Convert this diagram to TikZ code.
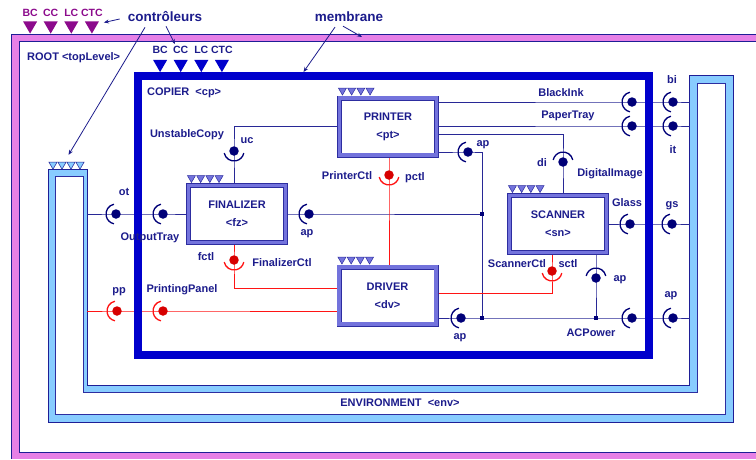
\documentclass[tikz,border=0pt]{standalone}
\usepackage{fontspec}
\setmainfont{Liberation Sans}
\usepackage{xcolor}
\usepackage{tikz}
\usetikzlibrary{shapes.geometric, arrows.meta, positioning, backgrounds, calc}

\definecolor{txtblue}{RGB}{28,28,140}
\definecolor{wireblue}{RGB}{40,40,150}
\definecolor{dotblue}{RGB}{0,0,120}
\definecolor{cpblue}{RGB}{0,0,204}
\definecolor{compband}{RGB}{115,115,220}
\definecolor{compline}{RGB}{45,45,160}
\definecolor{envfill}{RGB}{136,204,255}
\definecolor{envline}{RGB}{30,30,150}
\definecolor{rootpink}{RGB}{230,128,230}
\definecolor{ctlpurple}{RGB}{140,10,140}
\definecolor{wirered}{RGB}{255,20,20}
\definecolor{dotred}{RGB}{215,0,0}

\begin{document}
\begin{tikzpicture}[
    x=1pt, y=-1pt,
    >={Stealth[length=5pt, width=4pt]},
    lbl/.style={font=\fontsize{11}{13}\selectfont\bfseries, text=txtblue, inner sep=1pt, text height=8pt, text depth=2pt},
    biglbl/.style={font=\fontsize{13.5}{15}\selectfont\bfseries, text=txtblue, inner sep=1pt},
    ctllbl/.style={font=\fontsize{10.5}{12}\selectfont\bfseries, inner sep=1pt},
    comp/.style={rectangle, draw=compline, line width=0.7pt, double=compband, double distance=3.6pt, fill=white, minimum width=97pt, minimum height=57pt, align=center, text=txtblue, font=\fontsize{11}{13}\selectfont\bfseries},
    cpframe/.style={rectangle, draw=cpblue, line width=8pt, inner sep=0pt},
    bigtri/.style={regular polygon, regular polygon sides=3, shape border rotate=180, inner sep=0pt, minimum size=16.2pt},
    smalltri/.style={regular polygon, regular polygon sides=3, shape border rotate=180, inner sep=0pt, minimum size=9.4pt, draw=compline, line width=0.5pt, fill=compband},
    envtri/.style={smalltri, draw=envline, fill=envfill},
    portb/.style={circle, fill=dotblue, inner sep=0pt, minimum size=9.5pt},
    portr/.style={portb, fill=dotred},
    sockb/.style={draw=dotblue, line width=1.3pt},
    sockr/.style={draw=wirered, line width=1.3pt},
    wire/.style={draw=wireblue, line width=1pt},
    wirer/.style={draw=wirered, line width=1pt},
    junc/.style={rectangle, fill=dotblue, inner sep=0pt, minimum size=4pt},
    ptr/.style={->, draw=txtblue, line width=0.8pt}
]
\useasboundingbox (0,0) rectangle (756,459);

% 1. Root membrane and environment
\begin{scope}[on background layer]
    \fill[white] (0,0) rectangle (756,459);
    \draw[draw=rootpink, line width=7pt] (756,38) -- (15.5,38) -- (15.5,455.5) -- (756,455.5);
    \draw[draw=envline, line width=0.7pt] (756,34.5) -- (11.5,34.5) -- (11.5,459);
    \draw[draw=envline, line width=0.7pt] (756,41.5) -- (19,41.5) -- (19,452) -- (756,452);
    \draw[draw=envline, line width=0.8pt, fill=envfill] (48,169) -- (48,422) -- (733,422) -- (733,75) -- (689,75) -- (689,385) -- (87,385) -- (87,169) -- cycle;
    \draw[draw=compline, line width=0.6pt, fill=white] (55,176) -- (55,414) -- (725,414) -- (725,83) -- (697,83) -- (697,392) -- (83,392) -- (83,176) -- cycle;
\end{scope}
\coordinate (envL) at (87,250);
\coordinate (envR) at (690,250);
\coordinate (rootTop) at (362,37);

\node[lbl, anchor=west] (rootlbl) at (26,57) {ROOT <topLevel>};
\node[lbl] (envlbl) at (400,403) {ENVIRONMENT\ \ <env>};
\node[biglbl] (ctrl) at (165,17) {contrôleurs};
\node[biglbl] (memb) at (349,17) {membrane};

\foreach \n [count=\i] in {BC,CC,LC,CTC} {
    \node[bigtri, fill=ctlpurple] (r\n) at ({9.5+20.6*\i},25.5) {};
    \node[ctllbl, text=ctlpurple] (lblr\n) at ({9.5+20.6*\i},12.5) {\n};
}
\foreach \i in {1,...,4}
    \node[envtri] (eT\i) at ({44+9*\i},164.5) {};

% 2. Copier composite
\node[cpframe, minimum width=511pt, minimum height=279pt] (cp) at (393.5,215.5) {};
\node[lbl, anchor=west] (cplbl) at (146,92) {COPIER\ \ <cp>};
\foreach \n [count=\i] in {BC,CC,LC,CTC} {
    \node[bigtri, fill=cpblue] (c\n) at ({139.5+20.6*\i},64) {};
    \node[ctllbl, text=txtblue] (lblc\n) at ({139.5+20.6*\i},50) {\n};
}

% 3. Components
\node[comp] (pt) at (388,126.5) {PRINTER\\[5pt]<pt>};
\node[comp] (fz) at (237,214) {FINALIZER\\[5pt]<fz>};
\node[comp] (sn) at (558,224) {SCANNER\\[5pt]<sn>};
\node[comp] (dv) at (387.5,295.5) {DRIVER\\[5pt]<dv>};
\foreach \c in {pt,fz,sn,dv}
    \foreach \i in {0,...,3}
        \node[smalltri] (\c t\i) at ([xshift=3.3pt+\i*9.2pt, yshift=7.3pt]\c.north west) {};

% 4. Ports
\node[portb] (ot) at (116,214) {};
\node[portb] (outTray) at (163,214) {};
\node[portb] (uc) at (234,151) {};
\node[portb] (apFz) at (309,214) {};
\node[portb] (apPt) at (468,152) {};
\node[portb] (di) at (563,162) {};
\node[portb] (blackInk) at (632,102) {};
\node[portb] (bi) at (673,102) {};
\node[portb] (paperTray) at (632,126) {};
\node[portb] (it) at (673,126) {};
\node[portb] (glass) at (630,224) {};
\node[portb] (gs) at (672,224) {};
\node[portb] (apSn) at (596,278) {};
\node[portb] (apDv) at (461,318) {};
\node[portb] (acPower) at (632,318) {};
\node[portb] (apEnv) at (673,318) {};
\node[portr] (pctl) at (389,175) {};
\node[portr] (fctl) at (234,260) {};
\node[portr] (sctl) at (552,271) {};
\node[portr] (pp) at (117,311) {};
\node[portr] (printPanel) at (163,311) {};

\node[junc] (jA) at (482,214) {};
\node[junc] (jB) at (482,318) {};
\node[junc] (jC) at (596,318) {};

\foreach \p/\a [evaluate=\a as \sa using \a-78] in {ot/180, outTray/180, apFz/180, apPt/180, blackInk/180, bi/180, paperTray/180, it/180, glass/180, gs/180, apDv/180, acPower/180, apEnv/180, uc/270, di/90, apSn/90}
    \draw[sockb] ([shift={(\sa:10pt)}]\p.center) arc[start angle=\sa, delta angle=156, radius=10pt];
\foreach \p/\a [evaluate=\a as \sa using \a-78] in {pctl/270, fctl/270, sctl/270, pp/180, printPanel/180}
    \draw[sockr] ([shift={(\sa:10pt)}]\p.center) arc[start angle=\sa, delta angle=156, radius=10pt];

% 5. Port labels
\node[lbl] (otlbl) at (124,192) {ot};
\node[lbl] (outTraylbl) at (150,237) {OutputTray};
\node[lbl] (unstablelbl) at (187,134) {UnstableCopy};
\node[lbl] (uclbl) at (247,140) {uc};
\node[lbl] (apFzlbl) at (307,232) {ap};
\node[lbl] (apPtlbl) at (483,143) {ap};
\node[lbl] (printerCtllbl) at (347,176) {PrinterCtl};
\node[lbl] (pctllbl) at (415,177) {pctl};
\node[lbl] (dilbl) at (542,163) {di};
\node[lbl] (digitallbl) at (610,173) {DigitalImage};
\node[lbl] (blackInklbl) at (561,93) {BlackInk};
\node[lbl] (paperTraylbl) at (568,115) {PaperTray};
\node[lbl] (bilbl) at (672,80) {bi};
\node[lbl] (itlbl) at (673,150) {it};
\node[lbl] (glasslbl) at (627,203) {Glass};
\node[lbl] (gslbl) at (672,204) {gs};
\node[lbl] (fctllbl) at (206,257) {fctl};
\node[lbl] (finCtllbl) at (282,263) {FinalizerCtl};
\node[lbl] (scanCtllbl) at (517,264) {ScannerCtl};
\node[lbl] (sctllbl) at (568,264) {sctl};
\node[lbl] (apSnlbl) at (620,278) {ap};
\node[lbl] (apDvlbl) at (460,336) {ap};
\node[lbl] (acPowerlbl) at (591,333) {ACPower};
\node[lbl] (apEnvlbl) at (671,294) {ap};
\node[lbl] (pplbl) at (119,290) {pp};
\node[lbl] (printPanellbl) at (182,289) {PrintingPanel};

% 6. Bindings
\begin{scope}[on background layer]
    \draw[wire] (ot -| envL) -- (ot.center) -- (outTray.center) -- (fz.west);
    \draw[wire] (uc |- fz.north) -- (uc.center) |- (pt.west);
    \draw[wire] (fz.east) -- (apFz.center) -- (jA.center);
    \draw[wire] (pt.east |- apPt) -- (apPt.center) -| (jB.center);
    \draw[wire] (sn.north -| di) -- (di.center) |- ([yshift=-7.5pt]pt.east);
    \draw[wire] (pt.east |- blackInk) -- (blackInk.center) -- (bi.center) -- (bi -| envR);
    \draw[wire] (pt.east |- paperTray) -- (paperTray.center) -- (it.center) -- (it -| envR);
    \draw[wire] (sn.east) -- (glass.center) -- (gs.center) -- (gs -| envR);
    \draw[wire] (sn.south -| apSn) -- (apSn.center) -- (jC.center);
    \draw[wire] (dv.east |- apDv) -- (apDv.center) -- (jB.center) -- (jC.center) -- (acPower.center) -- (apEnv.center) -- (apEnv -| envR);
    \draw[wirer] (pt.south -| pctl) -- (pctl.center) -- (pctl |- dv.north);
    \draw[wirer] (fz.south -| fctl) -- (fctl.center) |- ([yshift=7pt]dv.west);
    \draw[wirer] (sn.south -| sctl) -- (sctl.center) |- ([yshift=2.5pt]dv.east);
    \draw[wirer] (pp -| envL) -- (pp.center) -- (printPanel.center) -- (printPanel -| dv.west);
\end{scope}

% 7. Pointers
\draw[ptr] ([shift={(-7,2)}]ctrl.west) -- ([shift={(12,-3)}]rCTC.center);
\draw[ptr] ([shift={(1,3)}]ctrl.south) -- ([shift={(3,-1)}]lblcCC.north west);
\draw[ptr] ([shift={(-20,4)}]ctrl.south) -- ([shift={(-2.5,-7)}]eT3.north);
\draw[ptr] ([shift={(-14,4)}]memb.south) -- ([xshift=-90pt]cp.north);
\draw[ptr] ([shift={(-6,3)}]memb.south) -- (rootTop);

\end{tikzpicture}
\end{document}
